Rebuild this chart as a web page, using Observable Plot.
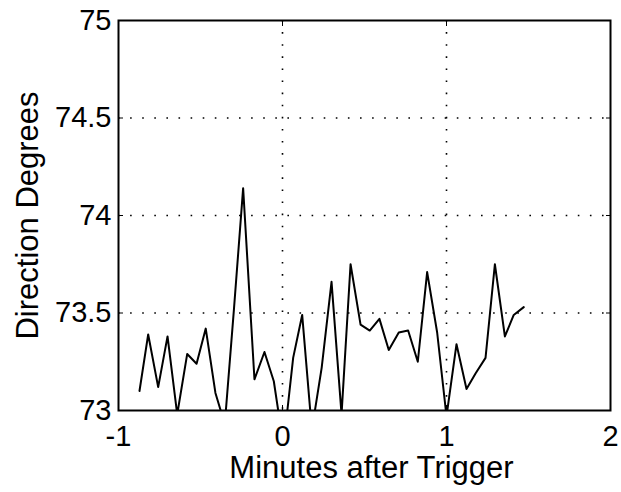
<!DOCTYPE html>
<html>
<head>
<meta charset="utf-8">
<script src="https://cdn.jsdelivr.net/npm/d3@7"></script>
<script src="https://cdn.jsdelivr.net/npm/@observablehq/plot@0.6"></script>
<style>
  html, body { margin: 0; padding: 0; background: #fff; }
</style>
</head>
<body>
<div id="chart"></div>
<script>
const minutes = [-0.872, -0.819, -0.758, -0.701, -0.642, -0.581, -0.524, -0.468, -0.409, -0.352,
  -0.296, -0.240, -0.171, -0.110, -0.053, 0.006, 0.065, 0.120, 0.179, 0.239,
  0.299, 0.360, 0.415, 0.476, 0.532, 0.591, 0.648, 0.709, 0.766, 0.825,
  0.882, 0.943, 1.000, 1.061, 1.122, 1.177, 1.238, 1.295, 1.356, 1.410, 1.471];
const direction = [73.10, 73.39, 73.12, 73.38, 72.98, 73.29, 73.24, 73.42, 73.09, 72.93,
  73.52, 74.14, 73.16, 73.30, 73.15, 72.82, 73.27, 73.49, 72.90, 73.22,
  73.66, 72.98, 73.75, 73.44, 73.41, 73.47, 73.31, 73.40, 73.41, 73.25,
  73.71, 73.40, 72.97, 73.34, 73.11, 73.19, 73.27, 73.75, 73.38, 73.49, 73.53];
const xTicks = [-1, 0, 1, 2];
const yTicks = [73, 73.5, 74, 74.5, 75];
const xLabel = "Minutes after Trigger";
const yLabel = "Direction Degrees";

const data = minutes.map((m, i) => ({m, d: direction[i]}));
const font = "'Liberation Sans', Arial, Helvetica, sans-serif";
const dots = "1.6,10.5";

const chart = Plot.plot({
  width: 621,
  height: 492,
  marginLeft: 118,
  marginRight: 11,
  marginTop: 20,
  marginBottom: 82,
  style: {fontFamily: font, background: "#fff", color: "#000"},
  x: {domain: [-1, 2]},
  y: {domain: [73, 75]},
  marks: [
    Plot.gridX(xTicks.slice(1, -1), {stroke: "#000", strokeOpacity: 1, strokeWidth: 1.6, strokeDasharray: dots}),
    Plot.gridY(yTicks.slice(1, -1), {stroke: "#000", strokeOpacity: 1, strokeWidth: 1.6, strokeDasharray: dots}),
    Plot.line(data, {x: "m", y: "d", stroke: "#000", strokeWidth: 2, clip: true}),
    Plot.frame({stroke: "#000", strokeWidth: 2}),
    // inward ticks
    Plot.axisX(xTicks, {anchor: "bottom", tickSize: 5, dy: -5, tickFormat: () => "", label: null}),
    Plot.axisX(xTicks, {anchor: "top", tickSize: 5, dy: 5, tickFormat: () => "", label: null}),
    Plot.axisY(yTicks, {anchor: "left", tickSize: 5, dx: 5, tickFormat: () => "", label: null}),
    Plot.axisY(yTicks, {anchor: "right", tickSize: 5, dx: -5, tickFormat: () => "", label: null}),
    // tick labels
    Plot.axisX(xTicks, {anchor: "bottom", tickSize: 0, tickPadding: 15, fontSize: 29, tickFormat: d => String(d), label: null, fill: "#000"}),
    Plot.axisY(yTicks, {anchor: "left", tickSize: 0, tickPadding: 7, fontSize: 29, tickFormat: d => String(d), label: null, fill: "#000"}),
    // axis titles
    Plot.text([xLabel], {frameAnchor: "bottom", dy: 58, dx: 7, fontSize: 31, fill: "#000", lineAnchor: "middle", textAnchor: "middle"}),
    Plot.text([yLabel], {frameAnchor: "left", dx: -90, rotate: -90, fontSize: 31, fill: "#000", lineAnchor: "middle", textAnchor: "middle"})
  ]
});
document.getElementById("chart").appendChild(chart);
</script>
</body>
</html>
